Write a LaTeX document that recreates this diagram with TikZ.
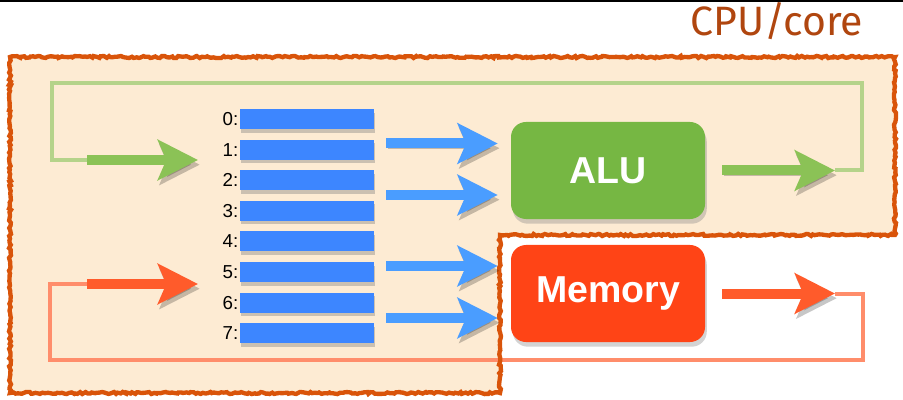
\documentclass[tikz,border=0pt]{standalone}
\usepackage{fontspec}
\newfontfamily\labelfont{Liberation Sans}
\newfontfamily\titlefont{Fira Sans}
\usepackage{tikz}
\usetikzlibrary{arrows.meta,shadows,decorations.pathmorphing}

\definecolor{corefill}{HTML}{FDEBD3}
\definecolor{coreline}{HTML}{D9540A}
\definecolor{titlebrown}{HTML}{B0460F}
\definecolor{regblue}{HTML}{3D86FF}
\definecolor{arrowblue}{HTML}{4A9DFF}
\definecolor{alugreen}{HTML}{76B743}
\definecolor{greenarrow}{HTML}{8BC256}
\definecolor{loopgreen}{HTML}{B5D38A}
\definecolor{memred}{HTML}{FF4416}
\definecolor{redarrow}{HTML}{FF5B2B}
\definecolor{loopred}{HTML}{FF8D6B}

\begin{document}
\begin{tikzpicture}[x=0.03cm,y=-0.03cm,node distance=0.918cm,
        reg/.style={fill=regblue,minimum width=4.02cm,minimum height=0.6cm,inner sep=0pt,
          drop shadow={shadow xshift=1pt,shadow yshift=-3pt,opacity=0.4},
          label={[regnum]left:{#1:}}},
        regnum/.style={inner sep=1pt,font=\labelfont\fontsize{16}{18}\selectfont},
        unit/.style={rounded corners=0.45cm,minimum width=5.82cm,minimum height=2.91cm,
          inner sep=0pt,text=white,font=\labelfont\bfseries\fontsize{32}{34}\selectfont,
          drop shadow={shadow xshift=1.5pt,shadow yshift=-4pt,opacity=0.35}},
        fat/.style={line width=0.3cm,-{Stealth[length=1.2cm,width=1.2cm,inset=0.25cm]},
          preaction={draw=black,opacity=0.22,transform canvas={shift={(1.5pt,-4pt)}}}},
        inarrow/.style={fat,draw=arrowblue,shorten <=0.36cm,shorten >=0.39cm},
        loopline/.style={line width=0.12cm}]

        \useasboundingbox (0,0) rectangle (903,400);
        \draw[line width=0.06cm] (0,1) -- (903,1);

        \node[text=titlebrown,font=\titlefont\fontsize{35}{38}\selectfont,anchor=base] (title) at (777,36) {CPU/core};

        \fill[corefill] (10,57) -- (895,57) -- (895,235) -- (500,235) -- (500,393) -- (10,393) -- cycle;

        \node[reg=0] (r0) at (307,119) {};
        \node[reg=1] (r1) [below of=r0] {};
        \node[reg=2] (r2) [below of=r1] {};
        \node[reg=3] (r3) [below of=r2] {};
        \node[reg=4] (r4) [below of=r3] {};
        \node[reg=5] (r5) [below of=r4] {};
        \node[reg=6] (r6) [below of=r5] {};
        \node[reg=7] (r7) [below of=r6] {};

        \node[unit,fill=alugreen] (alu) at (608,170.5) {ALU};
        \node[unit,fill=memred] (mem) at (608,293.5) {Memory};

        \coordinate (a1) at ([shift={(0,-27)}]alu.west);
        \coordinate (a2) at ([shift={(0,24.5)}]alu.west);
        \coordinate (m1) at ([shift={(0,-27.5)}]mem.west);
        \coordinate (m2) at ([shift={(0,24.5)}]mem.west);
        \coordinate (aluout) at (835,170.5);
        \coordinate (memout) at (835,293.5);
        \coordinate (aluin) at (87,160);
        \coordinate (memin) at (87,284);
        \coordinate (regin1) at (198,160);
        \coordinate (regin2) at (198,284);

        \draw[loopline,draw=loopgreen] (aluout) -| (862,83) -- (52,83) |- (aluin);
        \draw[loopline,draw=loopred] (memout) -| (863,360) -- (50,360) |- (memin);

        \draw[coreline,line width=0.13cm,decorate,
          decoration={random steps,segment length=2pt,amplitude=0.9pt}]
          (10,57) -- (895,57) -- (895,235) -- (500,235) -- (500,393) -- (10,393) -- cycle;

        \draw[inarrow] (r1.east |- a1) -- (a1);
        \draw[inarrow] (r2.east |- a2) -- (a2);
        \draw[inarrow] (r5.east |- m1) -- (m1);
        \draw[inarrow] (r6.east |- m2) -- (m2);

        \draw[fat,draw=greenarrow,shorten <=0.51cm] (alu.east) -- (aluout);
        \draw[fat,draw=redarrow,shorten <=0.51cm] (mem.east) -- (memout);
        \draw[fat,draw=greenarrow] (aluin) -- (regin1);
        \draw[fat,draw=redarrow] (memin) -- (regin2);
\end{tikzpicture}
\end{document}
